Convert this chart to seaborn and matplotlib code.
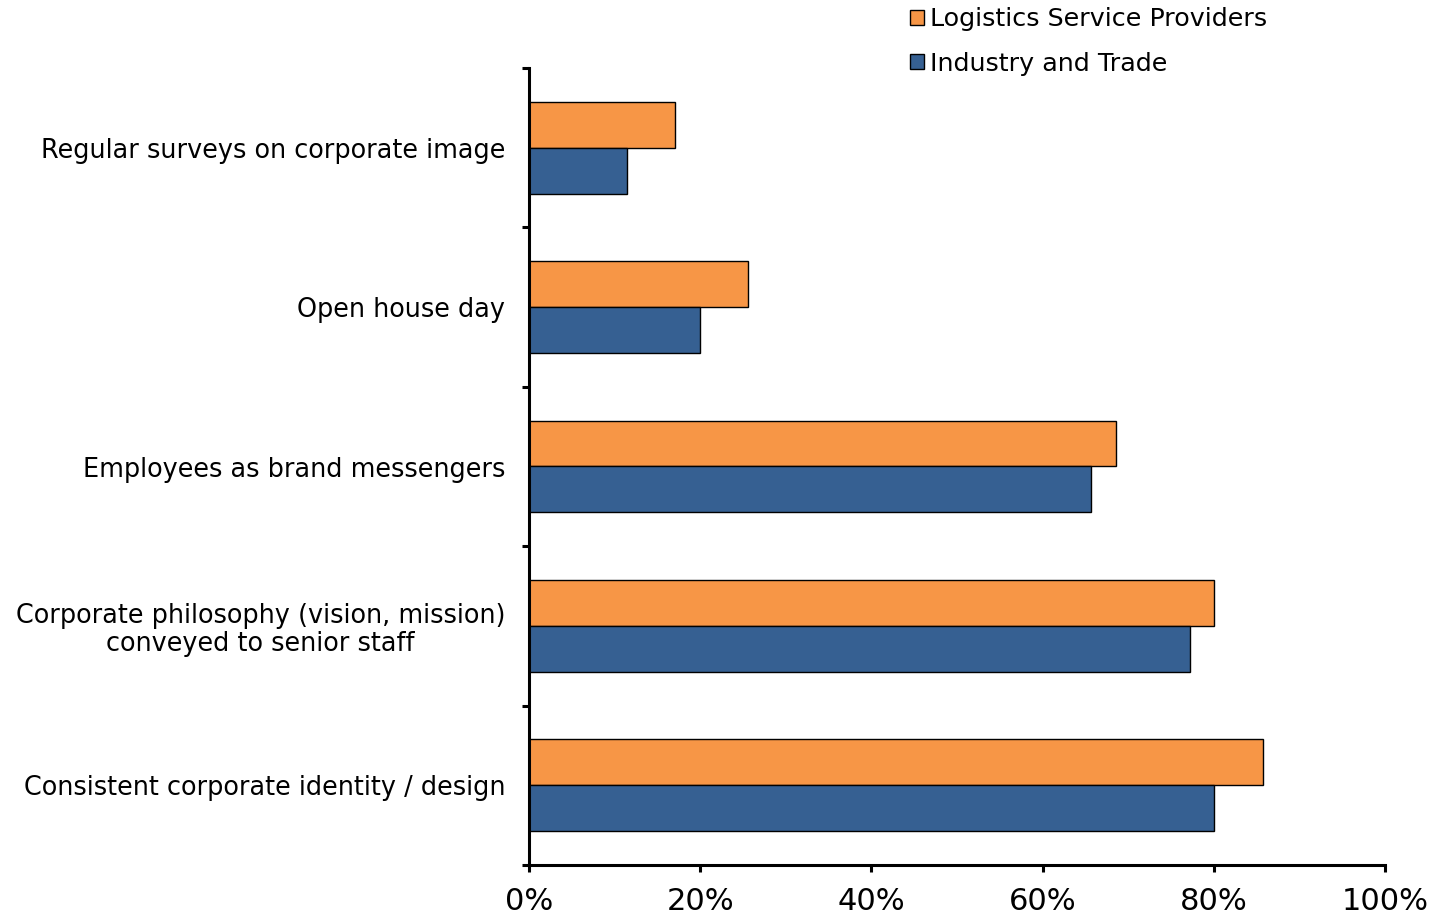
import numpy as np
import pandas as pd
import matplotlib
matplotlib.use('Agg')
import matplotlib.pyplot as plt
import seaborn as sns
from matplotlib.ticker import FixedLocator, PercentFormatter

categories = ['Regular surveys on corporate image',
              'Open house day',
              'Employees as brand messengers',
              'Corporate philosophy (vision, mission)\nconveyed to senior staff',
              'Consistent corporate identity / design']
series = ['Logistics Service Providers', 'Industry and Trade']
lsp = [17.1, 25.6, 68.6, 80.0, 85.7]
iat = [11.4, 20.0, 65.7, 77.2, 80.0]
colors = ['#F79646', '#366092']

df = pd.DataFrame({'category': categories * 2,
                   'group': [series[0]] * 5 + [series[1]] * 5,
                   'value': lsp + iat})

sns.set_style('white')
plt.rcParams['font.family'] = ['DejaVu Sans']
plt.rcParams['text.color'] = 'black'
plt.rcParams['xtick.color'] = 'black'
plt.rcParams['ytick.color'] = 'black'

fig = plt.figure(figsize=(14.47, 9.21), dpi=100)
ax = fig.add_axes([529/1447, 56/921, 856/1447, 797/921])

sns.barplot(data=df, y='category', x='value', hue='group', order=categories,
            hue_order=series, palette=colors, orient='h', width=0.575,
            edgecolor='black', linewidth=1, saturation=1, ax=ax, legend=True)

ax.set_xlim(0, 100)
ax.set_ylim(4.5, -0.5)
ax.set_xticks([0, 20, 40, 60, 80, 100])
ax.xaxis.set_major_formatter(PercentFormatter(decimals=0))
ax.yaxis.set_minor_locator(FixedLocator(np.arange(-0.5, 5, 1)))
ax.tick_params(axis='y', which='major', length=0, pad=17, labelsize=18.4)
ax.tick_params(axis='y', which='minor', length=5, width=2.2, direction='out', left=True)
ax.tick_params(axis='x', which='major', length=5, width=2.2, direction='out',
               bottom=True, pad=11, labelsize=22)
for lab in ax.get_yticklabels():
    lab.set_multialignment('center')
    lab.set_linespacing(1.1)
ax.set_xlabel('')
ax.set_ylabel('')
sns.despine(ax=ax)
for s in ['left', 'bottom']:
    ax.spines[s].set_linewidth(2.2)
    ax.spines[s].set_color('black')

handles, labels = ax.get_legend_handles_labels()
ax.legend(handles, labels, loc='upper left', bbox_to_anchor=(900/1447, 1.003),
          bbox_transform=fig.transFigure, frameon=False, fontsize=18.3,
          handlelength=0.55, handleheight=0.55, handletextpad=0.25,
          labelspacing=0.8, borderaxespad=0.0)

fig.savefig('out.png', dpi=100)
